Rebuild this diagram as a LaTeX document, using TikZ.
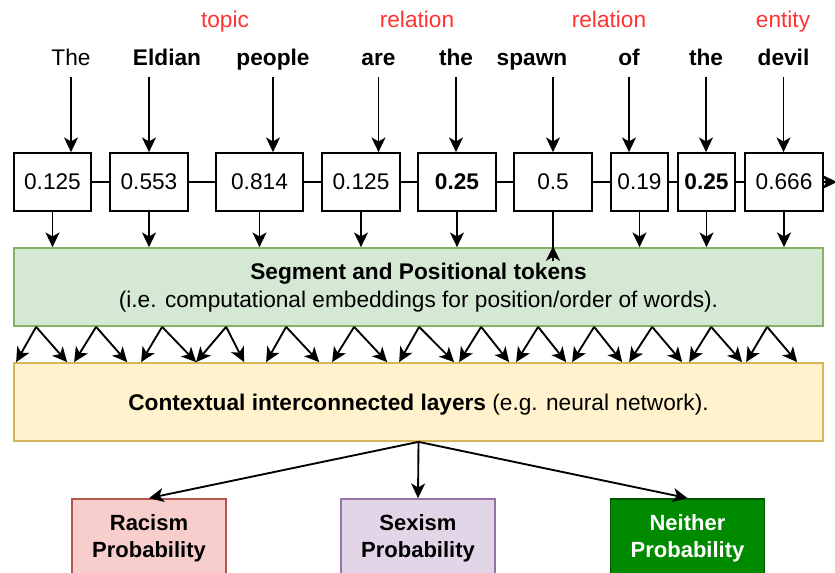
\documentclass[tikz,border=0pt]{standalone}
\usepackage{fontspec}
\setmainfont{Liberation Sans}
\usetikzlibrary{arrows.meta,calc}
\definecolor{redlbl}{HTML}{FF3333}
\definecolor{gfill}{HTML}{D5E8D4}
\definecolor{gdraw}{HTML}{82B366}
\definecolor{yfill}{HTML}{FFF2CC}
\definecolor{ydraw}{HTML}{D6B656}
\definecolor{rfill}{HTML}{F8CECC}
\definecolor{rdraw}{HTML}{B85450}
\definecolor{pfill}{HTML}{E1D5E7}
\definecolor{pdraw}{HTML}{9673A6}
\definecolor{nfill}{HTML}{008A00}
\definecolor{ndraw}{HTML}{005700}
\begin{document}
\begin{tikzpicture}[x=0.75pt,y=-0.75pt,
  txt/.style={font=\fontsize{17}{21}\selectfont},
  word/.style={txt, inner sep=0pt, text height=12pt, text depth=2pt, minimum height=27pt},
  bword/.style={word, font=\fontsize{17}{21}\selectfont\bfseries},
  lbl/.style={word, text=redlbl},
  val/.style={txt, draw, line width=1.3pt, minimum height=43.5pt, inner sep=0pt},
  wide/.style={draw, line width=1.3pt, minimum width=606.75pt, minimum height=58.5pt, inner sep=0pt},
  outb/.style={draw, line width=1.3pt, minimum width=115.5pt, minimum height=58.5pt, inner sep=0pt, align=center,
    font=\fontsize{16.5}{20}\selectfont\bfseries},
  link/.style={line width=1.4pt},
  arr/.style={line width=1.4pt, -{Stealth[length=11pt,width=10.5pt,inset=3pt]}}
]
\useasboundingbox (0,0) rectangle (835,573);
\clip (0,0) rectangle (835,573);

% red labels
\node[lbl] (l1) at (225,21) {topic};
\node[lbl] (l2) at (417,21) {relation};
\node[lbl] (l3) at (609,21) {relation};
\node[lbl] (l4) at (783,21) {entity};

% words
\node[word]  (w1) at (71,59) {The};
\node[bword] (w2) at (167,59) {Eldian};
\node[bword] (w3) at (273,59) {people};
\node[bword] (w4) at (378.5,59) {are};
\node[bword] (w5) at (456,59) {the};
\node[bword] (w6) at (532,59) {spawn};
\node[bword] (w7) at (629,59) {of};
\node[bword] (w8) at (706,59) {the};
\node[bword] (w9) at (783.5,59) {devil};

% value boxes
\node[val, minimum width=57.75pt] (b1) at (52.5,182) {0.125};
\node[val, minimum width=58.5pt]  (b2) at (149,182) {0.553};
\node[val, minimum width=65.25pt] (b3) at (259.5,182) {0.814};
\node[val, minimum width=58.5pt]  (b4) at (361,182) {0.125};
\node[val, minimum width=58.5pt]  (b5) at (457,182) {\textbf{0.25}};
\node[val, minimum width=58.5pt]  (b6) at (553,182) {0.5};
\node[val, minimum width=42.75pt] (b7) at (639.5,182) {0.19};
\node[val, minimum width=42.75pt] (b8) at (706.5,182) {\textbf{0.25}};
\node[val, minimum width=58.5pt]  (b9) at (784,182) {0.666};

\draw[link] (b1) -- (b2);
\draw[link] (b2) -- (b3);
\draw[link] (b3) -- (b4);
\draw[link] (b4) -- (b5);
\draw[link] (b5) -- (b6);
\draw[link] (b6) -- (b7);
\draw[link] (b7) -- (b8);
\draw[link] (b8) -- (b9);
\coordinate (outR) at (837,182);
\draw[arr] (b9) -- (outR);

% word arrows
\draw[arr] (w1.south) -- (w1.south |- b1.north);
\draw[arr] (w2.south -| b2.north) -- (b2.north);
\draw[arr] (w3.south) -- (w3.south |- b3.north);
\draw[arr] (w4.south) -- (w4.south |- b4.north);
\draw[arr] (w5.south) -- (w5.south |- b5.north);
\draw[arr] (w6.south -| b6.north) -- (b6.north);
\draw[arr] (w7.south) -- (w7.south |- b7.north);
\draw[arr] (w8.south) -- (w8.south |- b8.north);
\draw[arr] (w9.south) -- (w9.south |- b9.north);

% big boxes
\node[wide, fill=gfill, draw=gdraw] (green) at (418.5,287) {};
\node[txt, align=center, inner sep=0pt] (gtxt) at (418.5,288)
  {\textbf{Segment and Positional tokens}\\(i.e. computational embeddings for position/order of words).};
\node[wide, fill=yfill, draw=ydraw] (yel) at (418.5,402) {};
\node[txt, inner sep=0pt] (ytxt) at (418.5,405)
  {\textbf{Contextual interconnected layers} (e.g. neural network).};

% box to green arrows
\foreach \b in {b1,b2,b3,b4,b5,b7,b8,b9}
  \draw[arr] (\b.south) -- (\b.south |- green.north);
\draw[link] (b6.south) -- ($(b6.south |- green.north)+(0,14)$) coordinate (e6);
\draw[arr] (e6) -- ($(e6)+(0,-15)$);

% green to yellow arrows
\foreach \s/\l/\r in {37/17/68, 97/75/128, 163/142/197, 227/197/245, 287/267/320,
  355/333/388, 420/400/455, 482/460/510, 539/517/567, 595/573/623, 653/630/683,
  712/690/743, 768/747/798}{
  \draw[arr] ($(green.south west)+({\s-14},0)$) -- ($(yel.north west)+({\l-14},0)$);
  \draw[arr] ($(green.south west)+({\s-14},0)$) -- ($(yel.north west)+({\r-14},0)$);
}

% outputs
\node[outb, fill=rfill, draw=rdraw] (rac) at (149,538) {Racism\\Probability};
\node[outb, fill=pfill, draw=pdraw] (sex) at (418,538) {Sexism\\Probability};
\node[outb, fill=nfill, draw=ndraw, text=white] (nei) at (687.5,538) {Neither\\Probability};

\draw[arr] (yel.south) -- (rac.north);
\draw[arr] (yel.south) -- (sex.north);
\draw[arr] (yel.south) -- (nei.north);
\end{tikzpicture}
\end{document}
